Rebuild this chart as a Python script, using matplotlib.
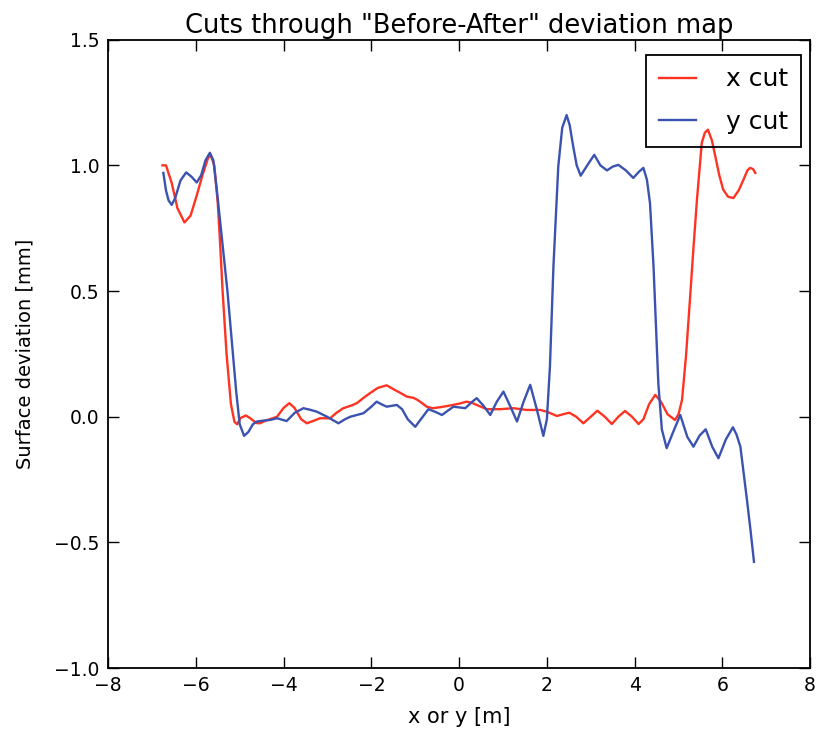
import matplotlib
matplotlib.use('Agg')
import matplotlib.pyplot as plt

x_cut_pos = [-6.76, -6.68, -6.55, -6.42, -6.26, -6.12, -5.98, -5.85, -5.72, -5.66,
             -5.58, -5.5, -5.45, -5.39, -5.3, -5.2, -5.12, -5.06, -4.98, -4.86,
             -4.76, -4.62, -4.54, -4.4, -4.15, -4.0, -3.87, -3.75, -3.6, -3.47,
             -3.3, -3.17, -2.94, -2.8, -2.64, -2.45, -2.33, -2.18, -2.03, -1.85,
             -1.65, -1.5, -1.34, -1.19, -1.04, -0.96, -0.85, -0.74, -0.6, -0.43,
             -0.2, 0.0, 0.17, 0.3, 0.4, 0.63, 0.93, 1.24, 1.54, 1.85,
             2.0, 2.23, 2.37, 2.51, 2.67, 2.83, 3.0, 3.15, 3.32, 3.48,
             3.63, 3.78, 3.94, 4.09, 4.2, 4.33, 4.47, 4.6, 4.75, 4.92,
             5.0, 5.08, 5.17, 5.26, 5.34, 5.42, 5.53, 5.6, 5.67, 5.76,
             5.84, 5.93, 6.02, 6.13, 6.25, 6.37, 6.48, 6.57, 6.63, 6.7, 6.75]
x_cut_dev = [1.0, 1.0, 0.93, 0.83, 0.773, 0.8, 0.88, 0.96, 1.03, 1.04,
             1.0, 0.85, 0.7, 0.5, 0.25, 0.05, -0.02, -0.03, -0.005, 0.005,
             -0.006, -0.025, -0.026, -0.015, 0.0, 0.035, 0.054, 0.035, -0.01, -0.026,
             -0.015, -0.006, -0.006, 0.015, 0.034, 0.045, 0.054, 0.075, 0.094, 0.115,
             0.125, 0.11, 0.095, 0.08, 0.075, 0.068, 0.055, 0.04, 0.034, 0.038,
             0.045, 0.052, 0.06, 0.055, 0.047, 0.03, 0.03, 0.034, 0.027, 0.027,
             0.02, 0.003, 0.01, 0.016, 0.0, -0.026, 0.0, 0.024, 0.0, -0.029,
             0.0, 0.023, 0.0, -0.029, -0.01, 0.05, 0.087, 0.06, 0.01, -0.013,
             0.01, 0.067, 0.24, 0.465, 0.67, 0.863, 1.089, 1.13, 1.142, 1.1,
             1.035, 0.96, 0.903, 0.875, 0.87, 0.9, 0.943, 0.98, 0.99, 0.985, 0.97]

y_cut_pos = [-6.74, -6.68, -6.62, -6.55, -6.47, -6.35, -6.22, -6.1, -5.98, -5.88,
             -5.78, -5.68, -5.6, -5.52, -5.4, -5.28, -5.18, -5.08, -5.0, -4.9,
             -4.8, -4.7, -4.61, -4.45, -4.31, -4.15, -3.93, -3.75, -3.55, -3.4,
             -3.24, -3.01, -2.75, -2.6, -2.48, -2.18, -2.0, -1.88, -1.75, -1.65,
             -1.42, -1.3, -1.17, -1.0, -0.85, -0.7, -0.55, -0.39, -0.25, -0.13,
             0.14, 0.3, 0.4, 0.55, 0.71, 0.86, 1.01, 1.17, 1.32, 1.47,
             1.62, 1.77, 1.92, 2.0, 2.07, 2.15, 2.26, 2.35, 2.45, 2.52,
             2.6, 2.68, 2.77, 2.92, 3.08, 3.22, 3.37, 3.5, 3.63, 3.8,
             3.97, 4.1, 4.2, 4.28, 4.35, 4.43, 4.54, 4.62, 4.73, 4.88,
             5.04, 5.2, 5.34, 5.48, 5.62, 5.77, 5.91, 6.08, 6.24, 6.32,
             6.41, 6.56, 6.64, 6.72]
y_cut_dev = [0.97, 0.9, 0.86, 0.843, 0.87, 0.94, 0.972, 0.955, 0.932, 0.96,
             1.02, 1.05, 1.02, 0.9, 0.7, 0.5, 0.3, 0.1, -0.03, -0.076,
             -0.06, -0.03, -0.019, -0.015, -0.013, -0.006, -0.017, 0.015, 0.034, 0.028,
             0.02, 0.0, -0.026, -0.01, 0.0, 0.014, 0.04, 0.06, 0.048, 0.04,
             0.047, 0.03, -0.01, -0.04, -0.005, 0.03, 0.02, 0.007, 0.025, 0.04,
             0.034, 0.06, 0.074, 0.045, 0.007, 0.06, 0.1, 0.04, -0.019, 0.06,
             0.127, 0.03, -0.076, -0.01, 0.2, 0.6, 0.996, 1.15, 1.2, 1.16,
             1.075, 1.0, 0.959, 1.0, 1.042, 1.0, 0.98, 0.995, 1.002, 0.98,
             0.95, 0.975, 0.99, 0.943, 0.85, 0.6, 0.133, -0.05, -0.125, -0.06,
             0.007, -0.08, -0.119, -0.075, -0.05, -0.12, -0.165, -0.09, -0.042, -0.07,
             -0.119, -0.331, -0.45, -0.577]

fig = plt.figure(figsize=(8.25, 7.35), dpi=100)
ax = fig.add_axes([0.131, 0.091, 0.851, 0.855])

ax.plot(x_cut_pos, x_cut_dev, color='#ff3322', linewidth=1.7, label='x cut')
ax.plot(y_cut_pos, y_cut_dev, color='#3a52b0', linewidth=1.7, label='y cut')

ax.set_xlim(-8, 8)
ax.set_ylim(-1.0, 1.5)
ax.set_xticks([-8, -6, -4, -2, 0, 2, 4, 6, 8])
ax.set_yticks([-1.0, -0.5, 0.0, 0.5, 1.0, 1.5])
ax.set_yticklabels(['\u22121.0', '\u22120.5', '0.0', '0.5', '1.0', '1.5'])
ax.tick_params(direction='in', top=True, right=True, length=8, width=1,
               labelsize=13.5, pad=6)
for s in ax.spines.values():
    s.set_linewidth(1.3)

ax.set_title('Cuts through "Before-After" deviation map', fontsize=18.5, pad=5)
ax.set_xlabel('x or y [m]', fontsize=15, labelpad=8)
ax.set_ylabel('Surface deviation [mm]', fontsize=14, labelpad=14)

leg = ax.legend(loc='upper right', bbox_to_anchor=(0.987, 0.976), fontsize=18,
                fancybox=False, handlelength=1.5, borderpad=0.5,
                handletextpad=1.2, labelspacing=0.75, borderaxespad=0)
frame = leg.get_frame()
frame.set_facecolor('none')
frame.set_edgecolor('black')
frame.set_linewidth(1.3)
frame.set_alpha(None)

fig.savefig('out.png', dpi=100, facecolor='white')
